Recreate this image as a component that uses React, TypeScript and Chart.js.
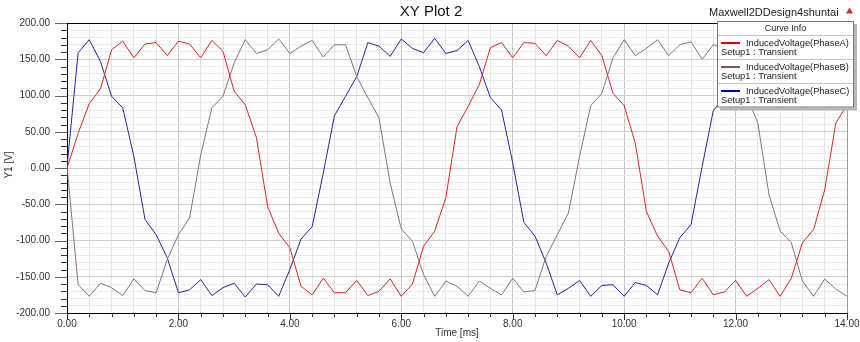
import React, { useEffect, useRef } from "react";
import { Chart, registerables } from "chart.js";

Chart.register(...registerables);

const TIME_MS = [
  0, 0.2, 0.4, 0.6, 0.8, 1.0, 1.2, 1.4, 1.6, 1.8, 2.0, 2.2, 2.4, 2.6, 2.8, 3.0, 3.2, 3.4, 3.6, 3.8,
  4.0, 4.2, 4.4, 4.6, 4.8, 5.0, 5.2, 5.4, 5.6, 5.8, 6.0, 6.2, 6.4, 6.6, 6.8, 7.0, 7.2, 7.4, 7.6, 7.8,
  8.0, 8.2, 8.4, 8.6, 8.8, 9.0, 9.2, 9.4, 9.6, 9.8, 10.0, 10.2, 10.4, 10.6, 10.8, 11.0, 11.2, 11.4, 11.6, 11.8,
  12.0, 12.2, 12.4, 12.6, 12.8, 13.0, 13.2, 13.4, 13.6, 13.8, 14.0,
];

const PHASE_A = [
  0, 48, 89, 109, 163, 175, 152, 171, 173, 155, 175, 171, 152, 176, 161, 106, 87, 42, -53, -90,
  -110, -163, -175, -152, -172, -172, -155, -176, -170, -153, -177, -160, -108, -87, -41, 57, 85, 115, 166, 173,
  152, 173, 172, 155, 176, 168, 152, 176, 155, 103, 86, 34, -60, -94, -115, -168, -172, -152, -175, -171,
  -155, -177, -166, -154, -177, -152, -103, -85, -30, 62, 87,
];

const PHASE_B = [
  2, -161, -177, -159, -165, -176, -153, -169, -172, -126, -92, -69, 18, 83, 99, 145, 177, 158, 163, 178,
  158, 168, 176, 153, 170, 170, 126, 97, 69, -21, -84, -101, -147, -177, -156, -163, -177, -156, -166, -175,
  -152, -171, -169, -122, -92, -62, 16, 86, 103, 152, 177, 155, 165, 177, 155, 170, 174, 150, 170, 165,
  126, 100, 62, -37, -87, -103, -156, -177, -153, -167, -177,
];

const PHASE_C = [
  2, 159, 177, 147, 99, 83, 16, -71, -92, -124, -172, -168, -154, -176, -165, -159, -178, -160, -161, -177,
  -140, -98, -81, -7, 72, 99, 126, 173, 168, 154, 178, 165, 159, 179, 158, 162, 176, 140, 97, 80,
  7, -75, -94, -131, -175, -166, -155, -177, -162, -161, -177, -158, -162, -175, -131, -96, -78, 2, 79, 99,
  126, 173, 168, 154, 178, 165, 159, 179, 158, 162, 176,
];

const SERIES_NAMES = ["InducedVoltage(PhaseA)", "InducedVoltage(PhaseB)", "InducedVoltage(PhaseC)"];
const SERIES_SETUP = ["Setup1 : Transient", "Setup1 : Transient", "Setup1 : Transient"];
const X_TICK_VALUES = [0, 2, 4, 6, 8, 10, 12, 14];
const X_TICK_LABELS = ["0.00", "2.00", "4.00", "6.00", "8.00", "10.00", "12.00", "14.00"];
const Y_TICK_VALUES = [200, 150, 100, 50, 0, -50, -100, -150, -200];
const Y_TICK_LABELS = ["200.00", "150.00", "100.00", "50.00", "0.00", "-50.00", "-100.00", "-150.00", "-200.00"];

const TITLE = "XY Plot 2";
const DESIGN = "Maxwell2DDesign4shuntai";
const X_TITLE = "Time [ms]";
const Y_TITLE = "Y1 [V]";

const LINE_COLORS = ["#dd2424", "#8c6e7e", "#2424a8"];
const SWATCH_COLORS = ["#e00000", "#805068", "#0000b4"];
const FONT = "'Liberation Sans', Arial, sans-serif";

function near(v: number, arr: number[]) {
  for (let i = 0; i < arr.length; i++) if (Math.abs(v - arr[i]) < 1e-6) return i;
  return -1;
}

const overlayPlugin = {
  id: "overlay",
  afterDraw(chart: any) {
    const ctx = chart.ctx as CanvasRenderingContext2D;
    const area = chart.chartArea;
    const xs = chart.scales.x;
    const ys = chart.scales.y;
    ctx.save();

    // frame top / right
    ctx.strokeStyle = "#000";
    ctx.lineWidth = 1;
    ctx.beginPath();
    ctx.moveTo(area.left, Math.round(area.top) + 0.5);
    ctx.lineTo(area.right, Math.round(area.top) + 0.5);
    ctx.stroke();
    ctx.strokeStyle = "#a0a0a0";
    ctx.beginPath();
    ctx.moveTo(Math.round(area.right) + 0.5, area.top);
    ctx.lineTo(Math.round(area.right) + 0.5, area.bottom);
    ctx.stroke();

    // y ticks
    for (let v = -200; v <= 200; v += 10) {
      const y = Math.round(ys.getPixelForValue(v)) + 0.5;
      const major = v % 50 === 0;
      ctx.strokeStyle = major ? "#666" : "#333";
      ctx.beginPath();
      ctx.moveTo(area.left - (major ? 12 : 6), y);
      ctx.lineTo(area.left, y);
      ctx.stroke();
    }
    // x ticks
    for (let i = 0; i <= 35; i++) {
      const v = i * 0.4;
      const x = Math.round(xs.getPixelForValue(v)) + 0.5;
      const major = i % 5 === 0;
      ctx.strokeStyle = "#333";
      ctx.beginPath();
      ctx.moveTo(x, area.bottom);
      ctx.lineTo(x, area.bottom + (major ? 7 : 4));
      ctx.stroke();
    }

    // titles
    ctx.fillStyle = "#111";
    ctx.textBaseline = "middle";
    ctx.textAlign = "center";
    ctx.font = `15px ${FONT}`;
    ctx.fillText(TITLE, 431, 12);
    ctx.font = `11px ${FONT}`;
    ctx.textAlign = "left";
    ctx.fillStyle = "#222";
    ctx.fillText(DESIGN, 709, 12.5);
    // small warning triangle
    ctx.fillStyle = "#d03030";
    ctx.beginPath();
    ctx.moveTo(849.5, 7.5);
    ctx.lineTo(853, 13.5);
    ctx.lineTo(846, 13.5);
    ctx.closePath();
    ctx.fill();

    ctx.fillStyle = "#333";
    ctx.font = `10px ${FONT}`;
    ctx.textAlign = "center";
    ctx.fillText(X_TITLE, (area.left + area.right) / 2, 333);
    ctx.save();
    ctx.translate(9, (area.top + area.bottom) / 2 - 3);
    ctx.rotate(-Math.PI / 2);
    ctx.fillText(Y_TITLE, 0, 0);
    ctx.restore();

    // legend box
    const x0 = 717, y0 = 21, x1 = 854, y1 = 107.5;
    ctx.fillStyle = "#b8b8b8";
    ctx.fillRect(x0 + 3, y0 + 3, x1 - x0, y1 - y0);
    ctx.fillStyle = "#fff";
    ctx.fillRect(x0, y0, x1 - x0, y1 - y0);
    ctx.strokeStyle = "#7a7a7a";
    ctx.strokeRect(x0 + 0.5, y0 + 0.5, x1 - x0 - 1, y1 - y0 - 1);
    ctx.fillStyle = "#222";
    ctx.font = `9px ${FONT}`;
    ctx.textAlign = "center";
    ctx.fillText("Curve Info", (x0 + x1) / 2, 29);
    for (let i = 0; i < 3; i++) {
      const base = 35.5 + 24 * i;
      ctx.strokeStyle = "#c4c4c4";
      ctx.beginPath();
      ctx.moveTo(x0 + 1, base);
      ctx.lineTo(x1 - 1, base);
      ctx.stroke();
      ctx.strokeStyle = SWATCH_COLORS[i];
      ctx.lineWidth = 2;
      ctx.beginPath();
      ctx.moveTo(721, base + 7.5);
      ctx.lineTo(740, base + 7.5);
      ctx.stroke();
      ctx.lineWidth = 1;
      ctx.fillStyle = "#222";
      ctx.font = `9.3px ${FONT}`;
      ctx.textAlign = "left";
      ctx.fillText(SERIES_NAMES[i], 746, base + 7.5);
      ctx.fillText(SERIES_SETUP[i], 721, base + 17);
    }
    ctx.restore();
  },
};

export default function App() {
  const ref = useRef<HTMLCanvasElement>(null);
  useEffect(() => {
    if (!ref.current) return;
    const mk = (vals: number[]) => TIME_MS.map((t, i) => ({ x: t, y: vals[i] }));
    const chart = new Chart(ref.current, {
      type: "line",
      data: {
        datasets: [PHASE_A, PHASE_B, PHASE_C].map((vals, i) => ({
          label: SERIES_NAMES[i],
          data: mk(vals),
          borderColor: LINE_COLORS[i],
          borderWidth: 1,
          pointRadius: 0,
          tension: 0,
          fill: false,
        })),
      },
      options: {
        animation: false,
        responsive: false,
        events: [],
        layout: { padding: { left: 0, right: 13, top: 23, bottom: 0 } },
        plugins: { legend: { display: false }, tooltip: { enabled: false }, title: { display: false } },
        scales: {
          x: {
            type: "linear",
            min: 0,
            max: 14,
            afterFit: (s: any) => { s.height = 29; s.paddingRight = 0; s.paddingLeft = 0; },
            ticks: {
              stepSize: 0.4,
              autoSkip: false,
              maxRotation: 0,
              padding: 5,
              color: "#333",
              font: { family: FONT, size: 10 },
              callback: (v: any) => {
                const i = near(Number(v), X_TICK_VALUES);
                return i >= 0 ? X_TICK_LABELS[i] : "";
              },
            },
            grid: {
              drawTicks: false,
              color: (c: any) => (near(c.tick?.value ?? 0, X_TICK_VALUES) >= 0 ? "#c4c4c4" : "#e4e4e4"),
            },
            border: { display: true, color: "#000", width: 1 },
          },
          y: {
            type: "linear",
            min: -200,
            max: 200,
            afterFit: (s: any) => { s.width = 67; s.paddingTop = 0; s.paddingBottom = 0; },
            ticks: {
              stepSize: 10,
              autoSkip: false,
              padding: 17,
              color: "#333",
              font: { family: FONT, size: 10 },
              callback: (v: any) => {
                const i = near(Number(v), Y_TICK_VALUES);
                return i >= 0 ? Y_TICK_LABELS[i] : "";
              },
            },
            grid: {
              drawTicks: false,
              color: (c: any) => (near(c.tick?.value ?? 1, Y_TICK_VALUES) >= 0 ? "#d0d0d0" : "#ebebeb"),
            },
            border: { display: true, color: "#000", width: 1 },
          },
        },
      },
      plugins: [overlayPlugin],
    });
    return () => chart.destroy();
  }, []);
  return (
    <div style={{ position: "fixed", left: 0, top: 0, width: 860, height: 342, background: "#fff" }}>
      <canvas ref={ref} width={860} height={342} style={{ display: "block", width: 860, height: 342 }} />
    </div>
  );
}
